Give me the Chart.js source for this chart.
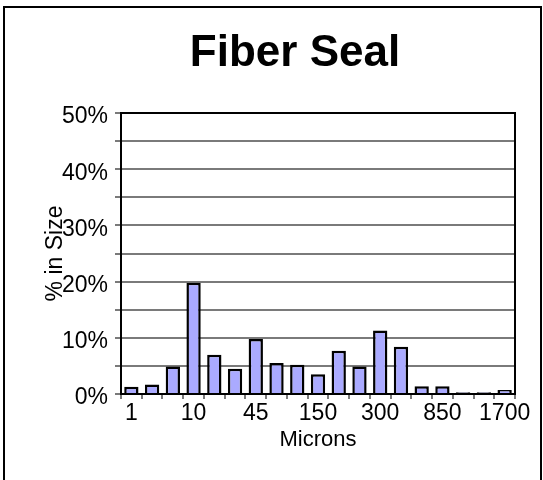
<!DOCTYPE html>
<html>
<head>
<meta charset="utf-8">
<script src="https://cdn.jsdelivr.net/npm/chart.js@4.4.0/dist/chart.umd.min.js"></script>
<style>
  html, body { margin: 0; padding: 0; background: #fff; }
  #wrap { width: 543px; height: 480px; position: relative; }
</style>
</head>
<body>
<div id="wrap"><canvas id="myChart"></canvas></div>
<script>
const chartTitle = 'Fiber Seal';
const microns = ['1', '', '', '10', '', '', '45', '', '', '150', '', '', '300', '', '', '850', '', '', '1700'];
const percentInSize = [1.3, 1.7, 4.9, 19.8, 7.0, 4.5, 9.8, 5.5, 5.2, 3.5, 7.7, 4.9, 11.3, 8.4, 1.4, 1.4, 0.3, 0.3, 0.7];
const yTicks = [0, 10, 20, 30, 40, 50];

const FONT = 'Liberation Sans, Arial, sans-serif';

// frame, plot box and the title
const framePlugin = {
    id: 'frame',
    afterDraw(chart) {
        const ctx = chart.ctx;
        const a = chart.chartArea;
        ctx.save();
        ctx.strokeStyle = '#000';
        ctx.lineWidth = 2;
        ctx.strokeRect(4, 7, 537, 490);
        ctx.strokeRect(a.left, a.top, a.right - a.left, a.bottom - a.top);
        ctx.fillStyle = '#000';
        ctx.font = 'bold 44px ' + FONT;
        ctx.textAlign = 'center';
        ctx.textBaseline = 'alphabetic';
        ctx.fillText(chartTitle, 295, 66);
        ctx.restore();
    }
};

if (document.getElementById("myChart") != null){
    const ctx = document.getElementById('myChart');
    new Chart(ctx, {
        type: 'bar',
        data: {
            labels: microns,
            datasets: [{
                label: '% in Size',
                data: percentInSize,
                backgroundColor: '#AAAAFF',
                borderColor: '#000000',
                borderWidth: 2.5,
                barPercentage: 0.69,
                categoryPercentage: 1.0
            }]
        },
        options: {
            responsive: true,
            maintainAspectRatio: false,
            devicePixelRatio: 1,
            animation: false,
            layout: {
                padding: { left: 44, right: 28, top: 113, bottom: 29 }
            },
            scales: {
                x: {
                    grid: {
                        offset: true,
                        drawOnChartArea: false,
                        drawTicks: true,
                        tickLength: 5,
                        color: '#7a7a7a',
                        lineWidth: 2
                    },
                    border: { color: '#000', width: 2 },
                    ticks: {
                        autoSkip: false,
                        maxRotation: 0,
                        padding: 3,
                        color: '#000',
                        font: { family: FONT, size: 23, lineHeight: 1 }
                    },
                    title: {
                        display: true,
                        text: 'Microns',
                        color: '#000',
                        padding: { top: 1, bottom: 0 },
                        font: { family: FONT, size: 22, lineHeight: 1 }
                    }
                },
                y: {
                    min: 0,
                    max: 50,
                    afterFit: function (scale) {
                        scale.width = 77;
                    },
                    grid: {
                        color: '#7a7a7a',
                        lineWidth: 2,
                        tickLength: 6
                    },
                    border: { color: '#000', width: 2 },
                    ticks: {
                        stepSize: 5,
                        padding: 7,
                        labelOffset: 4,
                        color: '#000',
                        font: { family: FONT, size: 23, lineHeight: 1 },
                        callback: function (value) {
                            return yTicks.includes(value) ? value + '%' : '';
                        }
                    },
                    title: {
                        display: true,
                        text: '% in Size',
                        color: '#000',
                        padding: 0,
                        font: { family: FONT, size: 23, lineHeight: 1 }
                    }
                }
            },
            plugins: {
                legend: { display: false },
                title: { display: false },
                tooltip: { enabled: false }
            }
        },
        plugins: [framePlugin]
    });
}
</script>
</body>
</html>
